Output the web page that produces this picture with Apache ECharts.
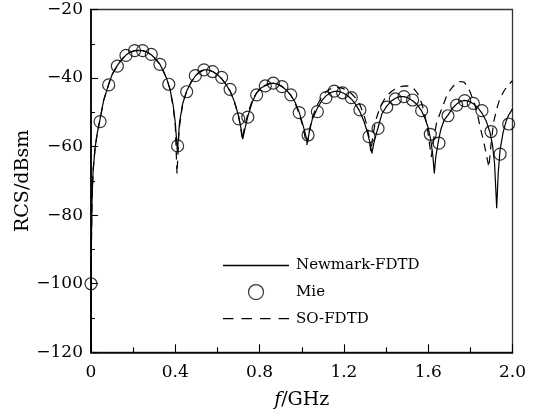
<!DOCTYPE html>
<html>
<head>
<meta charset="utf-8">
<script src="https://cdn.jsdelivr.net/npm/echarts@6/dist/echarts.min.js"></script>
<style>
html,body{margin:0;padding:0;background:#fff;}
#c{width:539px;height:417px;}
</style>
</head>
<body>
<div id="c"></div>
<script>
// ---- data ----
var seriesNames = ['Newmark-FDTD', 'Mie', 'SO-FDTD'];
var xTicks = ['0', '0.4', '0.8', '1.2', '1.6', '2.0'];
var yTicks = ['−120', '−100', '−80', '−60', '−40', '−20'];

var newmark = [
 [0,-120],[0.002,-88],[0.005,-75],[0.01,-67],[0.02,-60],[0.03,-56],[0.043,-52],[0.06,-46.5],[0.084,-41.8],[0.10,-39],
 [0.125,-36.3],[0.145,-34.6],[0.166,-33.3],[0.185,-32.5],[0.207,-32.0],[0.225,-31.9],[0.245,-32.0],[0.265,-32.4],[0.286,-33.2],
 [0.305,-34.3],[0.327,-36.0],[0.345,-38.2],[0.36,-40.3],[0.375,-43.3],[0.39,-48],[0.40,-53],[0.41,-61.5],
 [0.42,-53],[0.435,-47.5],[0.454,-43.8],[0.475,-41.2],[0.495,-39.4],[0.515,-38.2],[0.536,-37.6],[0.555,-37.6],[0.577,-38.1],
 [0.6,-39],[0.62,-40.2],[0.64,-41.8],[0.66,-43.8],[0.68,-46.8],[0.70,-51],[0.71,-54],[0.72,-57.8],
 [0.728,-55.5],[0.744,-51.2],[0.765,-47],[0.786,-44.3],[0.805,-43],[0.827,-42.2],[0.845,-41.7],[0.865,-41.5],[0.885,-41.8],
 [0.906,-42.5],[0.925,-43.4],[0.948,-45],[0.968,-47],[0.988,-50],[1.005,-53.5],[1.018,-56.5],[1.027,-59],
 [1.035,-56],[1.05,-52],[1.074,-48.8],[1.095,-46.6],[1.115,-45.2],[1.135,-44.3],[1.154,-43.9],[1.175,-43.9],[1.194,-44.3],
 [1.215,-45],[1.235,-46.1],[1.255,-47.6],[1.276,-49.8],[1.295,-52.6],[1.31,-55.5],[1.322,-58.5],[1.333,-62],
 [1.342,-59],[1.355,-56],[1.362,-54.5],[1.38,-50.5],[1.403,-48.2],[1.425,-46.7],[1.444,-45.9],[1.465,-45.4],[1.485,-45.4],
 [1.505,-45.8],[1.526,-46.6],[1.548,-47.8],[1.569,-49.6],[1.585,-51.8],[1.6,-54.5],[1.612,-58],[1.621,-62],[1.629,-67.8],
 [1.636,-63],[1.648,-58.5],[1.66,-55],[1.675,-52.3],[1.694,-50.8],[1.715,-48.8],[1.735,-47.6],[1.755,-46.8],[1.773,-46.5],
 [1.795,-46.8],[1.814,-47.5],[1.835,-48.6],[1.855,-50.2],[1.875,-52.5],[1.893,-55.8],[1.905,-59.5],[1.915,-65],[1.925,-78],
 [1.932,-68],[1.941,-61],[1.955,-56],[1.97,-52.5],[1.982,-50.8],[2.0,-49]
];

var mie = [
 [0,-100],[0.043,-52.7],[0.084,-42.0],[0.125,-36.5],[0.166,-33.4],[0.207,-32.0],[0.245,-32.0],[0.286,-33.1],[0.327,-36.0],
 [0.369,-41.8],[0.411,-59.8],[0.454,-44.0],[0.495,-39.3],[0.536,-37.6],[0.577,-38.1],[0.62,-39.8],[0.66,-43.3],[0.701,-51.9],
 [0.744,-51.4],[0.786,-44.9],[0.827,-42.3],[0.865,-41.5],[0.906,-42.5],[0.948,-44.9],[0.988,-50.1],[1.03,-56.6],[1.074,-49.8],
 [1.115,-45.7],[1.154,-43.8],[1.194,-44.3],[1.235,-45.7],[1.276,-49.3],[1.319,-57.1],[1.362,-54.7],[1.403,-48.5],[1.444,-46.1],
 [1.485,-45.4],[1.526,-46.4],[1.569,-49.5],[1.61,-56.4],[1.651,-59.0],[1.694,-51.0],[1.735,-47.9],[1.773,-46.6],[1.814,-47.4],
 [1.855,-49.5],[1.898,-55.6],[1.941,-62.2],[1.982,-53.4]
];

var soFdtd = [
 [0,-120],[0.002,-88],[0.005,-75],[0.01,-67],[0.02,-60],[0.03,-56],[0.043,-52],[0.06,-46.5],[0.084,-41.8],[0.10,-39],
 [0.125,-36.3],[0.145,-34.6],[0.166,-33.3],[0.185,-32.5],[0.207,-32.0],[0.225,-31.9],[0.245,-32.0],[0.265,-32.4],[0.286,-33.2],
 [0.305,-34.3],[0.327,-36.0],[0.345,-38.2],[0.36,-40.3],[0.375,-43.3],[0.39,-48.5],[0.40,-54],[0.408,-68],
 [0.418,-55],[0.435,-47.5],[0.454,-43.8],[0.475,-41.2],[0.495,-39.4],[0.515,-38.2],[0.536,-37.6],[0.555,-37.6],[0.577,-38.1],
 [0.6,-39],[0.62,-40.2],[0.64,-41.8],[0.66,-43.8],[0.68,-46.8],[0.70,-51],[0.71,-54.5],[0.718,-58],
 [0.726,-55],[0.744,-50.5],[0.765,-46.5],[0.786,-44.3],[0.805,-43],[0.827,-42.1],[0.845,-41.6],[0.865,-41.4],[0.885,-41.7],
 [0.906,-42.4],[0.925,-43.4],[0.948,-45],[0.968,-47.2],[0.988,-50.5],[1.005,-54],[1.015,-57],[1.024,-59.5],
 [1.033,-56],[1.05,-51.5],[1.074,-47.8],[1.095,-45.5],[1.115,-44],[1.135,-43.2],[1.154,-42.8],[1.175,-42.7],[1.194,-43],
 [1.215,-43.6],[1.235,-44.5],[1.255,-45.8],[1.276,-47.8],[1.295,-50.8],[1.31,-54],[1.32,-57.5],[1.328,-61.5],
 [1.337,-57],[1.35,-52.5],[1.37,-48.8],[1.39,-46.4],[1.41,-44.8],[1.43,-43.7],[1.45,-43],[1.47,-42.5],[1.49,-42.3],
 [1.51,-42.4],[1.53,-43],[1.55,-44.5],[1.57,-47.5],[1.585,-51],[1.598,-55.5],[1.608,-60],[1.615,-63],
 [1.625,-58],[1.64,-53],[1.655,-50.5],[1.67,-48],[1.69,-44.8],[1.71,-43],[1.73,-41.6],[1.75,-41],[1.77,-41.2],
 [1.785,-42.3],[1.80,-44.2],[1.82,-47.5],[1.835,-51],[1.85,-55.2],[1.865,-59],[1.878,-63],[1.888,-66],
 [1.897,-60],[1.91,-53],[1.925,-49],[1.94,-46],[1.96,-43.7],[1.98,-42],[2.0,-40.8]
];

// ---- chart ----
var FONT = 'DejaVu Serif';
var chart = echarts.init(document.getElementById('c'), null, {renderer: 'canvas'});

function xLabel(v) {
  var s = v === 0 ? '0' : v.toFixed(1);
  return xTicks.indexOf(s) >= 0 ? s : '';
}
function yLabel(v) {
  var s = v < 0 ? '−' + Math.abs(v) : String(v);
  return yTicks.indexOf(s) >= 0 ? s : '';
}

var option = {
  animation: false,
  backgroundColor: '#fff',
  grid: {left: 91, right: 26.5, top: 9.5, bottom: 64.7, show: true, borderColor: '#333', borderWidth: 1.3},
  legend: {
    orient: 'vertical', left: 218, top: 253, padding: 5,
    itemWidth: 66, itemHeight: 15, itemGap: 11,
    symbolKeepAspect: true,
    textStyle: {fontFamily: FONT, fontSize: 15, color: '#000', padding: [0,0,0,2]},
    data: [
      {name: seriesNames[0], icon: 'path://M0,0H66V1.3H0Z', itemStyle: {color: '#000', borderWidth: 0}},
      {name: seriesNames[1], icon: 'circle', itemStyle: {color: 'rgba(0,0,0,0)', borderColor: '#000', borderWidth: 1.2}},
      {name: seriesNames[2], icon: 'path://M0,0H10.5V1.3H0Z M18.5,0H29V1.3H18.5Z M37,0H47.5V1.3H37Z M55.5,0H66V1.3H55.5Z', itemStyle: {color: '#000', borderWidth: 0}}
    ]
  },
  xAxis: {
    type: 'value', min: 0, max: 2, interval: 0.4,
    name: '{i|f}/GHz', nameLocation: 'middle', nameGap: 38, nameMoveOverlap: false,
    nameTextStyle: {fontFamily: FONT, fontSize: 19, color: '#000',
      rich: {i: {fontFamily: FONT, fontStyle: 'italic', fontSize: 19, color: '#000'}}},
    axisLine: {lineStyle: {color: '#000', width: 1.7}},
    axisTick: {inside: true, length: 8, lineStyle: {color: '#000', width: 1.1}},
    minorTick: {show: true, splitNumber: 2, length: 5, lineStyle: {color: '#000', width: 1.1}},
    axisLabel: {fontFamily: FONT, fontSize: 17, color: '#000', margin: 12, formatter: xLabel},
    splitLine: {show: false}
  },
  yAxis: {
    type: 'value', min: -120, max: -20, interval: 20,
    name: 'RCS/dBsm', nameLocation: 'middle', nameGap: 58, nameMoveOverlap: false,
    nameTextStyle: {fontFamily: FONT, fontSize: 19, color: '#000'},
    axisLine: {lineStyle: {color: '#000', width: 1.7}},
    axisTick: {inside: true, length: 7, lineStyle: {color: '#000', width: 1.1}},
    minorTick: {show: true, splitNumber: 2, length: 4, lineStyle: {color: '#000', width: 1.1}},
    axisLabel: {fontFamily: FONT, fontSize: 17, color: '#000', margin: 8, formatter: yLabel},
    splitLine: {show: false}
  },
  series: [
    {name: seriesNames[0], type: 'line', data: newmark, symbol: 'none', smooth: false,
     lineStyle: {color: '#000', width: 1.2}, itemStyle: {color: '#000'}, z: 3},
    {name: seriesNames[1], type: 'scatter', data: mie, symbol: 'circle', symbolSize: 12,
     itemStyle: {color: 'rgba(0,0,0,0)', borderColor: '#000', borderWidth: 1.2}, z: 4},
    {name: seriesNames[2], type: 'line', data: soFdtd, symbol: 'none', smooth: false,
     lineStyle: {color: '#000', width: 1.2, type: [8, 6]}, itemStyle: {color: '#000'}, z: 2}
  ]
};
chart.setOption(option);
</script>
</body>
</html>
